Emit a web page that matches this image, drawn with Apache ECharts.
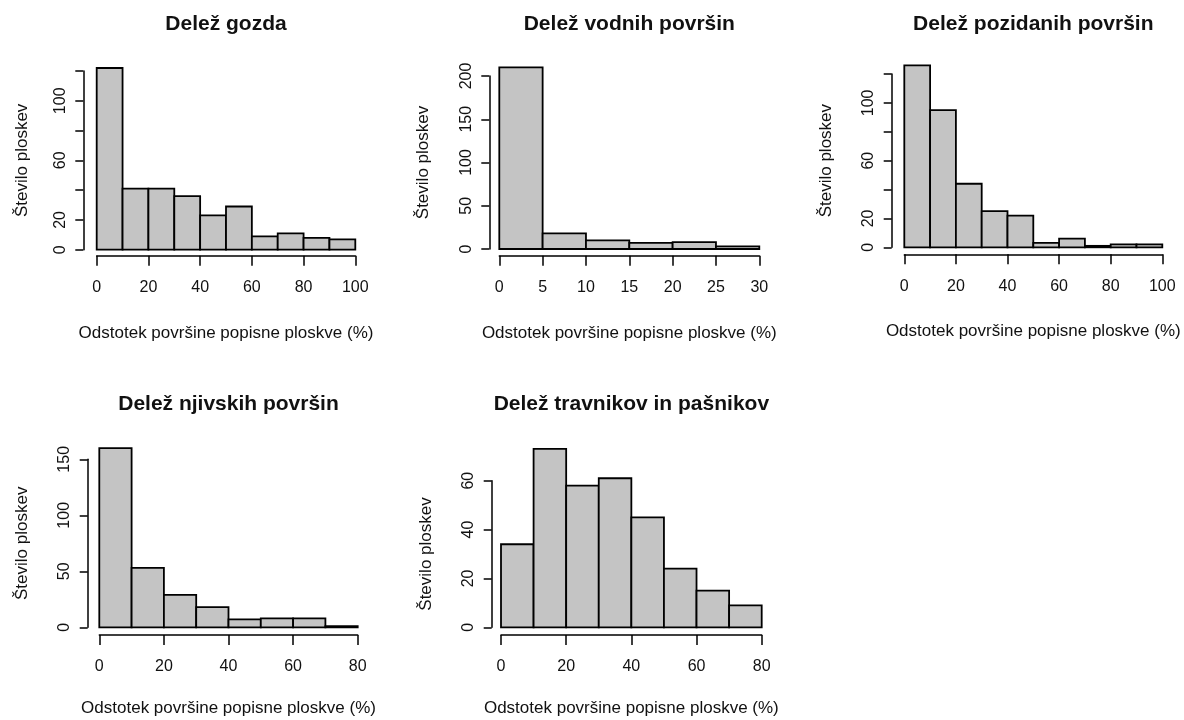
<!DOCTYPE html>
<html>
<head>
<meta charset="utf-8">
<script src="https://cdn.jsdelivr.net/npm/echarts@6/dist/echarts.min.js"></script>
<style>html,body{margin:0;padding:0;background:#fff}#c{width:1184px;height:720px}</style>
</head>
<body>
<div id="c"></div>
<script>
// ---- data ----
var titles = ['Delež gozda', 'Delež vodnih površin', 'Delež pozidanih površin', 'Delež njivskih površin', 'Delež travnikov in pašnikov'];
var xName = 'Odstotek površine popisne ploskve (%)';
var yName = 'Število ploskev';

var forestBreaks = [0, 10, 20, 30, 40, 50, 60, 70, 80, 90, 100];
var forestCounts = [122, 41, 41, 36, 23, 29, 9, 11, 8, 7];

var waterBreaks = [0, 5, 10, 15, 20, 25, 30];
var waterCounts = [210, 18, 10, 7, 8, 3];

var builtBreaks = [0, 10, 20, 30, 40, 50, 60, 70, 80, 90, 100];
var builtCounts = [126, 95, 44, 25, 22, 3, 6, 1, 2, 2];

var fieldBreaks = [0, 10, 20, 30, 40, 50, 60, 70, 80];
var fieldCounts = [160, 53, 29, 18, 7, 8, 8, 1];

var grassBreaks = [0, 10, 20, 30, 40, 50, 60, 70, 80];
var grassCounts = [34, 73, 58, 61, 45, 24, 15, 9];

// y tick labels that are printed (others are ticks only)
var forestYLabels = ['0', '20', '60', '100'];
var builtYLabels = ['0', '20', '60', '100'];

var FONT = "'Liberation Sans', Arial, Helvetica, sans-serif";

var panels = [
  {breaks: forestBreaks, counts: forestCounts, xMax: 100, xInt: 20, yMax: 120, yInt: 20, yShow: forestYLabels,
   grid: {left: 96.7, top: 71, width: 258.6, height: 178.7}, yOff: 13.4, xOff: 6, yGap: 52, xGap: 69},
  {breaks: waterBreaks, counts: waterCounts, xMax: 30, xInt: 5, yMax: 200, yInt: 50, yShow: null,
   grid: {left: 499.3, top: 76, width: 260, height: 173}, yOff: 10, xOff: 6.7, yGap: 57, xGap: 69},
  {breaks: builtBreaks, counts: builtCounts, xMax: 100, xInt: 20, yMax: 120, yInt: 20, yShow: builtYLabels,
   grid: {left: 904.3, top: 74, width: 258, height: 173.3}, yOff: 12.6, xOff: 7, yGap: 57, xGap: 69},
  {breaks: fieldBreaks, counts: fieldCounts, xMax: 80, xInt: 20, yMax: 150, yInt: 50, yShow: null,
   grid: {left: 99.3, top: 459.3, width: 258.4, height: 168}, yOff: 11.6, xOff: 7.7, yGap: 57, xGap: 65},
  {breaks: grassBreaks, counts: grassCounts, xMax: 80, xInt: 20, yMax: 60, yInt: 20, yShow: null,
   grid: {left: 501, top: 480.7, width: 260.7, height: 146.6}, yOff: 9.3, xOff: 7.7, yGap: 57, xGap: 65}
];

function renderItem(params, api) {
  var p0 = api.coord([api.value(0), api.value(2)]);
  var p1 = api.coord([api.value(1), 0]);
  return {
    type: 'rect',
    shape: {x: p0[0], y: p0[1], width: p1[0] - p0[0], height: p1[1] - p0[1]},
    style: {fill: '#c4c4c4', stroke: '#000', lineWidth: 1.8}
  };
}

var option = {
  backgroundColor: '#fff',
  animation: false,
  title: [], grid: [], xAxis: [], yAxis: [], series: []
};

var titleTops = [14, 14, 14, 394, 394];

panels.forEach(function (p, i) {
  option.grid.push({left: p.grid.left, top: p.grid.top, width: p.grid.width, height: p.grid.height, containLabel: false});
  option.title.push({
    text: titles[i], left: p.grid.left + p.grid.width / 2, top: titleTops[i], textAlign: 'center', padding: 0,
    textStyle: {fontFamily: FONT, fontSize: 21, fontWeight: 'bold', color: '#111'}
  });
  option.xAxis.push({
    type: 'value', gridIndex: i, min: 0, max: p.xMax, interval: p.xInt, offset: p.xOff,
    name: xName, nameLocation: 'middle', nameGap: p.xGap,
    nameTextStyle: {fontFamily: FONT, fontSize: 17, color: '#111'},
    axisLine: {show: true, onZero: false, lineStyle: {color: '#000', width: 1.5}},
    axisTick: {show: true, length: 10, lineStyle: {color: '#000', width: 1.5}},
    axisLabel: {fontFamily: FONT, fontSize: 16, color: '#111', margin: 24},
    splitLine: {show: false}
  });
  var show = p.yShow;
  option.yAxis.push({
    type: 'value', gridIndex: i, min: 0, max: p.yMax, interval: p.yInt, offset: p.yOff,
    name: yName, nameLocation: 'middle', nameGap: p.yGap, nameRotate: 90,
    nameTextStyle: {fontFamily: FONT, fontSize: 17, color: '#111'},
    axisLine: {show: true, onZero: false, lineStyle: {color: '#000', width: 1.5}},
    axisTick: {show: true, length: 8, lineStyle: {color: '#000', width: 1.5}},
    axisLabel: {
      fontFamily: FONT, fontSize: 16, color: '#111', rotate: 90, margin: 15,
      formatter: function (v) { var s = String(v); return (!show || show.indexOf(s) >= 0) ? s : ''; }
    },
    splitLine: {show: false}
  });
  var data = p.counts.map(function (c, k) { return [p.breaks[k], p.breaks[k + 1], c]; });
  option.series.push({
    type: 'custom', xAxisIndex: i, yAxisIndex: i, clip: false,
    renderItem: renderItem, encode: {x: [0, 1], y: 2}, data: data
  });
});

var chart = echarts.init(document.getElementById('c'), null, {renderer: 'canvas'});
chart.setOption(option);
</script>
</body>
</html>
